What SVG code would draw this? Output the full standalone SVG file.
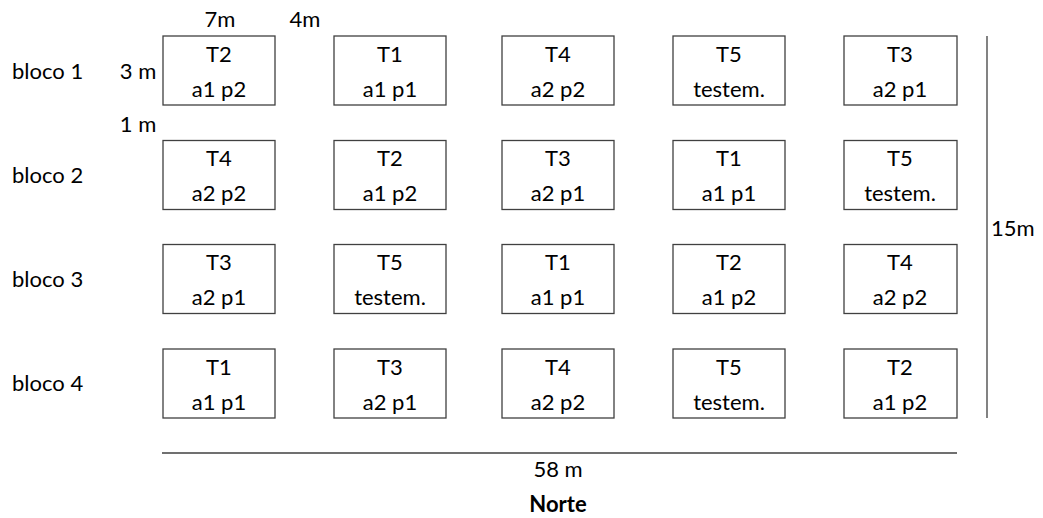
<svg xmlns="http://www.w3.org/2000/svg" width="1043" height="518" viewBox="0 0 1043 518">
  <style>
    text { font-family: Lato, "Liberation Sans", sans-serif; font-size: 22px; fill: #000; }
    .c { text-anchor: middle; }
    .plot rect { fill: #fff; stroke: #404040; stroke-width: 1.3; }
    .dim line { stroke: #404040; stroke-width: 1.3; }
    .b { font-weight: bold; }
  </style>
  <rect width="1043" height="518" fill="#fff"/>

  <!-- block labels -->
  <g id="labels">
    <text x="12" y="79">bloco 1</text>
    <text x="12" y="183">bloco 2</text>
    <text x="12" y="287">bloco 3</text>
    <text x="12" y="391">bloco 4</text>
    <text class="c" x="138" y="79">3 m</text>
    <text class="c" x="138" y="132">1 m</text>
    <text class="c" x="220" y="27">7m</text>
    <text class="c" x="305" y="27">4m</text>
  </g>

  <!-- bloco 1 -->
  <g id="b1p1" class="plot"><rect x="163" y="36" width="112" height="69"/><text class="c" x="219" y="62">T2</text><text class="c" x="219" y="97">a1 p2</text></g>
  <g id="b1p2" class="plot"><rect x="334" y="36" width="112" height="69"/><text class="c" x="390" y="62">T1</text><text class="c" x="390" y="97">a1 p1</text></g>
  <g id="b1p3" class="plot"><rect x="502" y="36" width="112" height="69"/><text class="c" x="558" y="62">T4</text><text class="c" x="558" y="97">a2 p2</text></g>
  <g id="b1p4" class="plot"><rect x="673" y="36" width="112" height="69"/><text class="c" x="729" y="62">T5</text><text class="c" x="729" y="97">testem.</text></g>
  <g id="b1p5" class="plot"><rect x="844" y="36" width="113" height="69"/><text class="c" x="900" y="62">T3</text><text class="c" x="900" y="97">a2 p1</text></g>

  <!-- bloco 2 -->
  <g id="b2p1" class="plot"><rect x="163" y="140.5" width="112" height="69"/><text class="c" x="219" y="166">T4</text><text class="c" x="219" y="201">a2 p2</text></g>
  <g id="b2p2" class="plot"><rect x="334" y="140.5" width="112" height="69"/><text class="c" x="390" y="166">T2</text><text class="c" x="390" y="201">a1 p2</text></g>
  <g id="b2p3" class="plot"><rect x="502" y="140.5" width="112" height="69"/><text class="c" x="558" y="166">T3</text><text class="c" x="558" y="201">a2 p1</text></g>
  <g id="b2p4" class="plot"><rect x="673" y="140.5" width="112" height="69"/><text class="c" x="729" y="166">T1</text><text class="c" x="729" y="201">a1 p1</text></g>
  <g id="b2p5" class="plot"><rect x="844" y="140.5" width="113" height="69"/><text class="c" x="900" y="166">T5</text><text class="c" x="900" y="201">testem.</text></g>

  <!-- bloco 3 -->
  <g id="b3p1" class="plot"><rect x="163" y="244.5" width="112" height="69"/><text class="c" x="219" y="270">T3</text><text class="c" x="219" y="305">a2 p1</text></g>
  <g id="b3p2" class="plot"><rect x="334" y="244.5" width="112" height="69"/><text class="c" x="390" y="270">T5</text><text class="c" x="390" y="305">testem.</text></g>
  <g id="b3p3" class="plot"><rect x="502" y="244.5" width="112" height="69"/><text class="c" x="558" y="270">T1</text><text class="c" x="558" y="305">a1 p1</text></g>
  <g id="b3p4" class="plot"><rect x="673" y="244.5" width="112" height="69"/><text class="c" x="729" y="270">T2</text><text class="c" x="729" y="305">a1 p2</text></g>
  <g id="b3p5" class="plot"><rect x="844" y="244.5" width="113" height="69"/><text class="c" x="900" y="270">T4</text><text class="c" x="900" y="305">a2 p2</text></g>

  <!-- bloco 4 -->
  <g id="b4p1" class="plot"><rect x="163" y="349" width="112" height="69"/><text class="c" x="219" y="375">T1</text><text class="c" x="219" y="410">a1 p1</text></g>
  <g id="b4p2" class="plot"><rect x="334" y="349" width="112" height="69"/><text class="c" x="390" y="375">T3</text><text class="c" x="390" y="410">a2 p1</text></g>
  <g id="b4p3" class="plot"><rect x="502" y="349" width="112" height="69"/><text class="c" x="558" y="375">T4</text><text class="c" x="558" y="410">a2 p2</text></g>
  <g id="b4p4" class="plot"><rect x="673" y="349" width="112" height="69"/><text class="c" x="729" y="375">T5</text><text class="c" x="729" y="410">testem.</text></g>
  <g id="b4p5" class="plot"><rect x="844" y="349" width="113" height="69"/><text class="c" x="900" y="375">T2</text><text class="c" x="900" y="410">a1 p2</text></g>

  <!-- overall dimensions -->
  <g id="dimensions" class="dim">
    <line x1="987" y1="36" x2="987" y2="418"/>
    <text x="991" y="236">15m</text>
    <line x1="162" y1="453" x2="957" y2="453"/>
    <text class="c" x="558" y="477">58 m</text>
    <text class="c b" x="558" y="512">Norte</text>
  </g>
</svg>
